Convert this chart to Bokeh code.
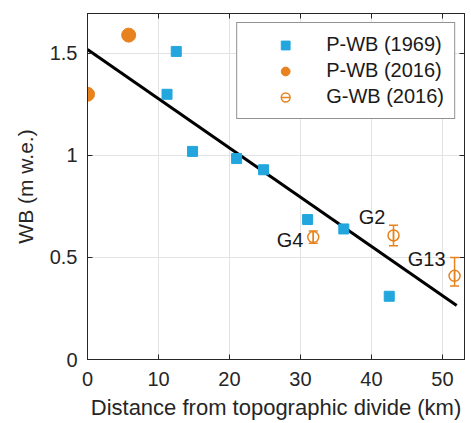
import math
from bokeh.plotting import figure
from bokeh.models import (ColumnDataSource, LinearAxis, Whisker, TeeHead, Legend,
                          LegendItem, Range1d, FixedTicker)
from bokeh.core.properties import value
from bokeh.embed import file_html
from bokeh.resources import INLINE

# ---- data ----
p1969_x = [11.2, 12.5, 14.8, 21.0, 24.8, 31.0, 36.1, 42.5]
p1969_y = [1.30, 1.51, 1.02, 0.985, 0.93, 0.686, 0.64, 0.31]

p2016_x = [0.0, 5.8]
p2016_y = [1.30, 1.59]

g_names = ["G4", "G2", "G13"]
g_x = [31.8, 43.1, 51.7]
g_y = [0.60, 0.608, 0.41]
g_err_lo = [0.03, 0.05, 0.05]
g_err_hi = [0.03, 0.05, 0.09]

fit_x = [0.0, 52.0]
fit_y = [1.52, 0.265]

x_ticks = [0, 10, 20, 30, 40, 50]
y_ticks = [0, 0.5, 1, 1.5]
y_tick_labels = ["0", "0.5", "1", "1.5"]

# annotation anchors for the glacier names
lab_x = [30.4, 38.2, 45.1]
lab_y = [0.585, 0.70, 0.495]
lab_align = ["right", "left", "left"]

CYAN = "#22a6dd"
ORANGE = "#e8821e"
AX = "#262626"
FONT = "Liberation Sans"

p = figure(width=471, height=423, output_backend="svg", toolbar_location=None,
           x_range=Range1d(0, 53.1), y_range=Range1d(0, 1.696),
           min_border_left=87, min_border_right=7, min_border_top=13,
           min_border_bottom=64, x_axis_label="Distance from topographic divide (km)",
           y_axis_label="WB (m w.e.)")
p.background_fill_color = "white"
p.border_fill_color = "white"
p.outline_line_color = AX
p.outline_line_width = 1

for ax in (p.xaxis[0], p.yaxis[0]):
    ax.major_tick_in = 5
    ax.major_tick_out = 0
    ax.minor_tick_line_color = None
    ax.axis_line_color = AX
    ax.major_tick_line_color = AX
    ax.major_label_text_font = FONT
    ax.major_label_text_font_size = "20px"
    ax.major_label_text_color = "#262626"
    ax.axis_label_text_font = FONT
    ax.axis_label_text_font_size = "22px"
    ax.axis_label_text_font_style = "normal"
    ax.axis_label_text_color = "#262626"

p.yaxis[0].axis_label_text_font_size = "21px"
p.xaxis[0].ticker = FixedTicker(ticks=x_ticks)
p.yaxis[0].ticker = FixedTicker(ticks=y_ticks)
p.yaxis[0].major_label_overrides = {t: l for t, l in zip(y_ticks, y_tick_labels)}
p.xaxis[0].major_label_standoff = 12
p.yaxis[0].major_label_standoff = 10
p.xaxis[0].axis_label_standoff = 6
p.yaxis[0].axis_label_standoff = 10

for loc, tk in (("above", x_ticks), ("right", y_ticks)):
    a = LinearAxis(ticker=FixedTicker(ticks=tk),
                   major_label_overrides={t: "" for t in tk},
                   major_label_text_font_size="1px",
                   major_label_standoff=0, major_tick_in=5, major_tick_out=0,
                   minor_tick_line_color=None, axis_line_color=AX,
                   major_tick_line_color=AX)
    p.add_layout(a, loc)

p.xgrid.ticker = FixedTicker(ticks=x_ticks)
p.ygrid.ticker = FixedTicker(ticks=y_ticks)
p.xgrid.grid_line_color = "#e3e3e3"
p.ygrid.grid_line_color = "#e3e3e3"

# regression line
p.line(fit_x, fit_y, line_color="black", line_width=3)

# data
r1969 = p.scatter(p1969_x, p1969_y, marker="square", size=10, fill_color=CYAN,
                  line_color=CYAN)
r2016 = p.scatter(p2016_x, p2016_y, marker="circle", size=14, fill_color=ORANGE,
                  line_color=ORANGE)

gsrc = ColumnDataSource(dict(
    x=g_x, y=g_y,
    lo=[y - e for y, e in zip(g_y, g_err_lo)],
    hi=[y + e for y, e in zip(g_y, g_err_hi)],
))
w = Whisker(source=gsrc, base="x", upper="hi", lower="lo", dimension="height",
            line_color=ORANGE, line_width=1.5,
            upper_head=TeeHead(size=9, line_color=ORANGE, line_width=1.5),
            lower_head=TeeHead(size=9, line_color=ORANGE, line_width=1.5))
p.add_layout(w)
rg_bar = p.scatter("x", "y", source=gsrc, marker="dash", angle=math.pi / 2, size=12,
                   line_color=ORANGE, line_width=1.5)
rg = p.scatter("x", "y", source=gsrc, marker="circle", size=11, fill_color=None,
               line_color=ORANGE, line_width=1.5)

lsrc = ColumnDataSource(dict(x=lab_x, y=lab_y, t=g_names, a=lab_align))
p.text("x", "y", text="t", source=lsrc, text_align="a", text_baseline="middle",
       text_font=value(FONT), text_font_size="20px", text_color="#1a1a1a")

legend = Legend(items=[
    LegendItem(label="P-WB (1969)", renderers=[r1969]),
    LegendItem(label="P-WB (2016)", renderers=[r2016]),
    LegendItem(label="G-WB (2016)", renderers=[rg_bar, rg]),
], location="top_right")
legend.margin = 9
legend.padding = 10
legend.spacing = 3
legend.label_height = 22
legend.glyph_height = 22
legend.glyph_width = 76
legend.label_standoff = 3
legend.label_width = 100
legend.label_text_font = FONT
legend.label_text_font_size = "20px"
legend.label_text_color = "#1a1a1a"
legend.border_line_color = AX
legend.border_line_width = 1
legend.background_fill_color = "white"
legend.background_fill_alpha = 1
p.add_layout(legend, "center")

open("out.html", "w").write(file_html(p, INLINE))
